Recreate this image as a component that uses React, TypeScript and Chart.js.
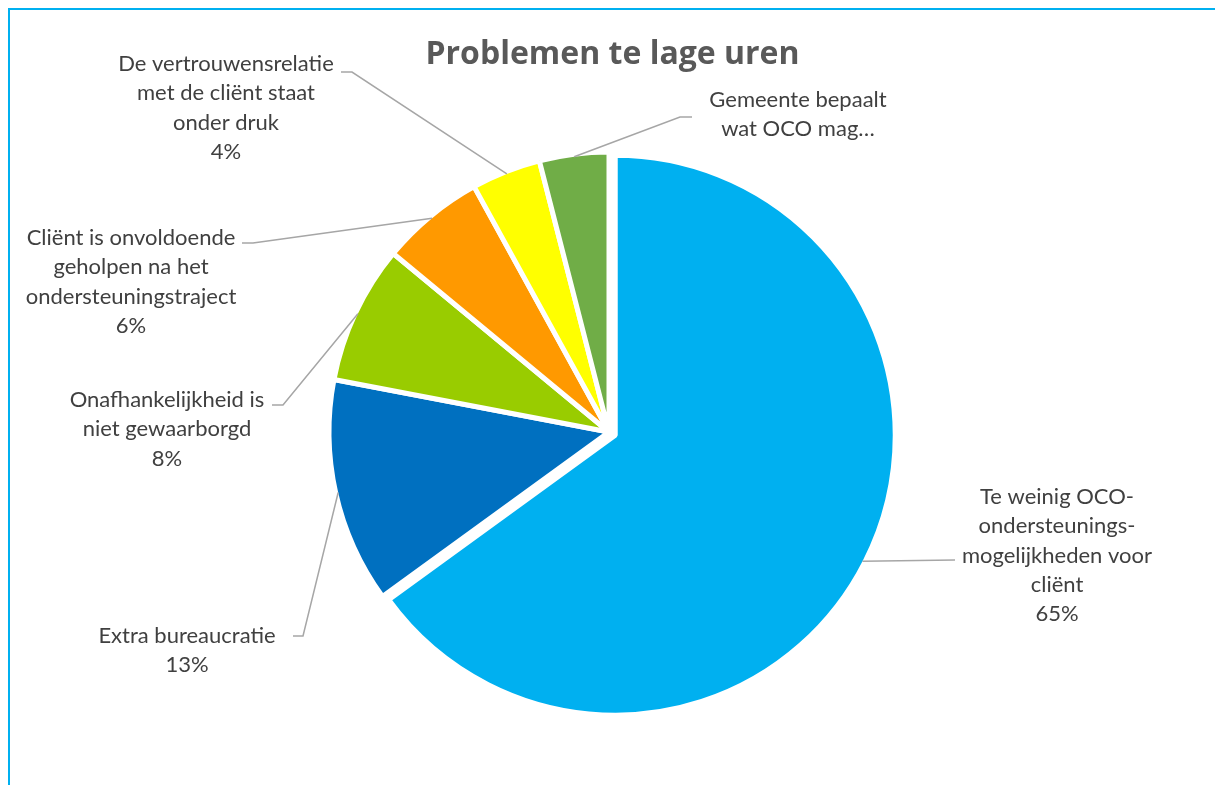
import React, { useEffect, useRef } from "react";
import { Chart, registerables } from "chart.js";

Chart.register(...registerables);

// ---- data ----
const chartTitle = "Problemen te lage uren";
const categories: string[][] = [
  ["Te weinig OCO-", "ondersteunings-", "mogelijkheden voor", "cliënt"],
  ["Extra bureaucratie"],
  ["Onafhankelijkheid is", "niet gewaarborgd"],
  ["Cliënt is onvoldoende", "geholpen na het", "ondersteuningstraject"],
  ["De vertrouwensrelatie", "met de cliënt staat", "onder druk"],
  ["Gemeente bepaalt", "wat OCO mag…"],
];
const values = [65, 13, 8, 6, 4, 4];
const showValue = [true, true, true, true, true, false];

// ---- styles / layout ----
const colors = ["#00B0F0", "#0070C0", "#99CC00", "#FF9900", "#FFFF00", "#70AD47"];
const explode = [7, 0, 0, 0, 0, 0];
// positions relative to pie centre: text centre x / first baseline, leader elbow and end
const labelLayout = [
  { tx: 448, ty: 72, bx: 346, by: 128, ex: 346, ey: 128 },
  { tx: -422, ty: 211, bx: -306, by: 204, ex: -316, ey: 204 },
  { tx: -442, ty: -25, bx: -326, by: -27, ex: -337, ey: -27 },
  { tx: -478, ty: -187, bx: -356, by: -189, ex: -367, ey: -189 },
  { tx: -383, ty: -361, bx: -257, by: -360, ex: -268, ey: -360 },
  { tx: 189, ty: -325, bx: 71, by: -315, ex: 83, ey: -315 },
];
const lineH = 29.3;
const labelFont = "22px Lato";
const titleFont = "bold 32px 'Open Sans'";

const explodePlugin = {
  id: "explodeSlices",
  beforeDatasetsDraw(chart: any) {
    const meta = chart.getDatasetMeta(0);
    meta.data.forEach((el: any, i: number) => {
      const d = explode[i];
      if (!d || el.__patched) return;
      const orig = el.draw.bind(el);
      el.draw = (ctx: CanvasRenderingContext2D, area: any) => {
        const mid = (el.startAngle + el.endAngle) / 2;
        ctx.save();
        ctx.translate(Math.cos(mid) * d, Math.sin(mid) * d);
        orig(ctx, area);
        ctx.restore();
      };
      el.__patched = true;
    });
  },
};

const labelPlugin = {
  id: "calloutLabels",
  afterDraw(chart: any) {
    const ctx: CanvasRenderingContext2D = chart.ctx;
    const meta = chart.getDatasetMeta(0);
    const total = values.reduce((a, b) => a + b, 0);
    ctx.save();
    ctx.textAlign = "center";
    ctx.textBaseline = "alphabetic";
    ctx.font = titleFont;
    ctx.fillStyle = "#595959";
    ctx.fillText(chartTitle, chart.width / 2, 54);

    meta.data.forEach((el: any, i: number) => {
      const p = el.getProps(["x", "y", "startAngle", "endAngle", "outerRadius"], true);
      const mid = (p.startAngle + p.endAngle) / 2;
      const r = p.outerRadius - 2.5 + explode[i];
      const sx = p.x + Math.cos(mid) * r;
      const sy = p.y + Math.sin(mid) * r;
      const L = labelLayout[i];
      ctx.strokeStyle = "#A6A6A6";
      ctx.lineWidth = 1.5;
      ctx.beginPath();
      ctx.moveTo(sx, sy);
      ctx.lineTo(p.x + L.bx, p.y + L.by);
      ctx.lineTo(p.x + L.ex, p.y + L.ey);
      ctx.stroke();

      const lines = [...categories[i]];
      if (showValue[i]) lines.push(Math.round((values[i] / total) * 100) + "%");
      ctx.font = labelFont;
      ctx.fillStyle = "#404040";
      lines.forEach((t, k) => ctx.fillText(t, p.x + L.tx, p.y + L.ty + k * lineH));
    });
    ctx.restore();
  },
};

export default function App() {
  const ref = useRef<HTMLCanvasElement | null>(null);
  useEffect(() => {
    if (!ref.current) return;
    const chart = new Chart(ref.current, {
      type: "pie",
      data: {
        labels: categories.map((c) => c.join(" ")),
        datasets: [
          {
            data: values,
            backgroundColor: colors,
            borderColor: "#FFFFFF",
            borderWidth: 5,
          },
        ],
      },
      options: {
        animation: false,
        responsive: true,
        maintainAspectRatio: false,
        radius: 280,
        layout: { padding: { top: 69, bottom: 0, left: 0, right: 7 } },
        plugins: {
          legend: { display: false },
          tooltip: { enabled: false },
          title: { display: false },
        },
      } as any,
      plugins: [explodePlugin, labelPlugin],
    });
    return () => chart.destroy();
  }, []);

  return (
    <div
      style={{
        position: "fixed",
        left: 8,
        top: 8,
        width: 1230,
        height: 800,
        borderTop: "2px solid #00B0F0",
        borderLeft: "2px solid #00B0F0",
        background: "#FFFFFF",
      }}
    >
      <div style={{ position: "relative", width: 1205, height: 775 }}>
        <canvas ref={ref} />
      </div>
    </div>
  );
}
